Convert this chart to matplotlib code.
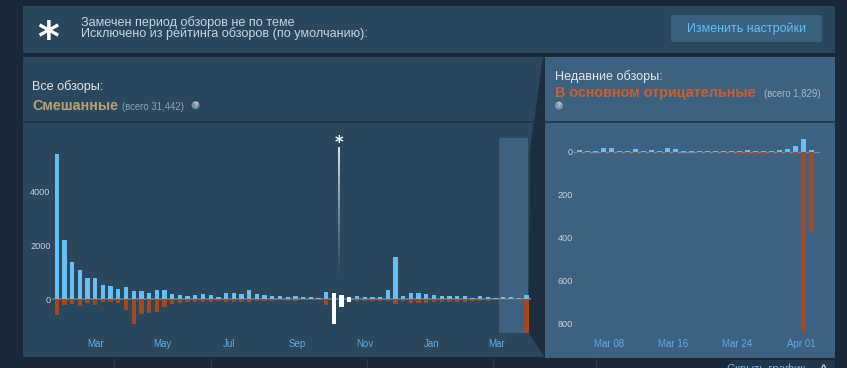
import datetime as dt
import numpy as np
import matplotlib
matplotlib.use('Agg')
import matplotlib.pyplot as plt
import matplotlib.dates as mdates
from matplotlib.patches import Rectangle, Polygon, Circle, FancyBboxPatch
from matplotlib.collections import LineCollection

plt.rcParams['font.family'] = ['Liberation Sans', 'DejaVu Sans']

# ---- data ----
# all reviews, weekly bins (first bin 2018-01-25)
week_start = dt.date(2018, 1, 25)
all_up = [5390, 2190, 1400, 1080, 800, 800, 520, 500, 370, 470,
          310, 300, 230, 360, 330, 210, 160, 135, 150, 200,
          160, 90, 230, 230, 200, 330, 210, 170, 135, 110,
          85, 135, 75, 75, 60, 260, 230, 150, 85, 110,
          85, 85, 75, 360, 1560, 120, 230, 220, 210, 160,
          110, 120, 120, 120, 60, 110, 75, 60, 100, 75,
          50, 160]
all_down = [580, 210, 185, 245, 125, 200, 110, 100, 125, 390,
            920, 530, 490, 480, 300, 170, 125, 85, 85, 100,
            85, 50, 100, 100, 100, 100, 75, 50, 50, 40,
            60, 60, 40, 40, 40, 220, 920, 280, 100, 75,
            75, 60, 60, 60, 170, 60, 135, 135, 135, 110,
            85, 85, 85, 100, 60, 75, 50, 40, 40, 40,
            50, 1250]
offtopic_weeks = [36, 37, 38]          # excluded period, drawn white
offtopic_mark = dt.date(2018, 10, 9)   # the "*" marker

# recent reviews, daily bins (first bin 2019-03-04)
day_start = dt.date(2019, 3, 4)
recent_up = [8, 5, 6, 20, 20, 6, 6, 15, 6, 8,
             5, 18, 14, 5, 5, 3, 2, 3, 3, 3,
             3, 8, 3, 5, 5, 9, 14, 28, 62, 11]
recent_down = [3, 5, 2, 3, 3, 5, 5, 8, 3, 3,
               6, 5, 3, 2, 2, 5, 3, 6, 3, 9,
               12, 14, 15, 12, 8, 5, 5, 14, 843, 375]

left_ticks = [0, 2000, 4000]
right_ticks = [0, -200, -400, -600, -800]
recent_labels = [dt.date(2019, 3, 8), dt.date(2019, 3, 16), dt.date(2019, 3, 24),
                 dt.date(2019, 4, 1)]

# ---- colours ----
BG = '#1b2838'
PANEL = '#2a475e'
PANEL2 = '#3d6180'
DARK = '#1f2e3e'
UP = '#66c0f4'
DOWN = '#a4491f'
LBL = '#c6d4df'
MONTH = '#5eaee0'

W, H = 847, 368
fig = plt.figure(figsize=(W / 100, H / 100), dpi=100, facecolor=BG)


def px_axes(x0, y0, x1, y1, **kw):
    return fig.add_axes([x0 / W, 1 - y1 / H, (x1 - x0) / W, (y1 - y0) / H], **kw)


bg = px_axes(0, 0, W, H)
bg.set_xlim(0, W)
bg.set_ylim(H, 0)
bg.axis('off')

# banner
bg.add_patch(Rectangle((23, 6), 812, 47, color=PANEL, lw=0))
bg.add_patch(FancyBboxPatch((671, 15), 151, 27, boxstyle='round,pad=0,rounding_size=2',
                            color='#386280', lw=0))
bg.text(48, 40, '*', color='white', fontsize=30, fontweight='bold', ha='center', va='center',
        family='DejaVu Sans')
bg.text(81, 22.5, 'Замечен период обзоров не по теме', color=LBL, fontsize=9.1, va='center')
bg.text(81, 34, 'Исключено из рейтинга обзоров (по умолчанию):', color=LBL, fontsize=9.1,
        va='center')
bg.text(746.5, 28.5, 'Изменить настройки', color='#67c1f5', fontsize=9.0, ha='center',
        va='center')

# panels
bg.add_patch(Rectangle((23, 57), 522, 300, color=PANEL, lw=0))
bg.add_patch(Rectangle((545, 57), 290, 301, color=PANEL2, lw=0))
bg.plot([23, 545], [121.5, 121.5], color='#1f3244', lw=1.3)
bg.plot([545, 835], [121.5, 121.5], color='#24384c', lw=1.3)
bg.add_patch(Rectangle((499, 138), 29, 195, color=PANEL2, lw=0))
bg.add_patch(Polygon([(543, 57), (545, 57), (545, 358), (528.5, 333), (530, 150)],
                     closed=True, color=DARK, lw=0))

# headers
bg.text(32, 87, 'Все обзоры:', color='#dfe5ea', fontsize=9.1, va='center')
bg.text(32, 106.5, 'Смешанные', color='#b9a074', fontsize=10.3, fontweight='bold',
        va='center')
bg.text(121.5, 107, '(всего 31,442)', color='#8ba3b5', fontsize=6.9, va='center')
bg.add_patch(Circle((195.5, 105), 4, color='#7d8f9f', lw=0))
bg.text(195.5, 105.3, '?', color='#dde4ea', fontsize=5, fontweight='bold', ha='center',
        va='center')

bg.text(555, 77, 'Недавние обзоры:', color='#dfe5ea', fontsize=9.1, va='center')
bg.text(555, 93.5, 'В основном отрицательные', color='#cc602d', fontsize=10.4,
        fontweight='bold', va='center')
bg.text(763.5, 94, '(всего 1,829)', color='#a5b8c8', fontsize=6.9, va='center')
bg.add_patch(Circle((559, 105.5), 4, color='#8197aa', lw=0))
bg.text(559, 105.8, '?', color='#dde4ea', fontsize=5, fontweight='bold', ha='center',
        va='center')

# bottom strip
for x in [114, 211, 367, 493, 596]:
    bg.plot([x, x], [359, 368], color='#2c3d50', lw=0.8)
bg.add_patch(Rectangle((731, 360), 104, 10, color='#22374b', lw=0))
bg.text(766, 363.5, 'Скрыть график', color='#67c1f5', fontsize=8, ha='center', va='top')
bg.text(823, 363.5, '^', color='#c6d4df', fontsize=9, fontweight='bold', ha='center',
        va='top')


def style(ax):
    ax.patch.set_alpha(0)
    for s in ax.spines.values():
        s.set_visible(False)
    ax.tick_params(axis='y', length=0, pad=1, labelsize=6.6, labelcolor=LBL)
    ax.tick_params(axis='x', length=0, pad=3.3, labelsize=7.0, labelcolor=MONTH)


# ---- all reviews chart ----
ax = px_axes(52, 138, 531, 334)
style(ax)
weeks = [week_start + dt.timedelta(days=7 * i) for i in range(len(all_up))]
up_col = ['white' if i in offtopic_weeks else UP for i in range(len(weeks))]
dn_col = ['white' if i in offtopic_weeks else DOWN for i in range(len(weeks))]
ax.axhline(0, color='#4c88b2', lw=1.1, zorder=1)
ax.bar(weeks, all_up, width=3.9, color=up_col, zorder=2)
ax.bar(weeks, [-v for v in all_down], width=3.9, color=dn_col, zorder=2)
d0 = mdates.date2num(week_start)
ax.set_xlim(d0 - 4.3, d0 + 431.2)
ax.set_ylim(-1285, 5975)
ax.set_yticks(left_ticks)
ax.set_yticklabels([str(v) for v in left_ticks])
ax.xaxis.set_major_locator(mdates.MonthLocator(bymonth=[1, 3, 5, 7, 9, 11]))
ax.xaxis.set_major_formatter(mdates.DateFormatter('%b'))

# fading marker line for the off-topic period
xm = mdates.date2num(offtopic_mark)
ys = np.linspace(5640, 600, 60)
segs = [[(xm, ys[i]), (xm, ys[i + 1])] for i in range(len(ys) - 1)]
alphas = np.linspace(1, 0, len(segs)) ** 1.3
lc = LineCollection(segs, colors=[(1, 1, 1, a) for a in alphas], lw=1.2, zorder=3)
ax.add_collection(lc)
ax.text(xm, 5800, '*', color='white', fontsize=12, fontweight='bold', ha='center',
        va='center', family='DejaVu Sans', clip_on=False)

# ---- recent reviews chart ----
ax2 = px_axes(574, 130, 820, 334)
style(ax2)
days = [day_start + dt.timedelta(days=i) for i in range(len(recent_up))]
ax2.axhline(0, color='#5a93bd', lw=0.9, zorder=1)
ax2.bar(days, recent_up, width=0.55, align='edge', color=UP, zorder=2)
ax2.bar(days, [-v for v in recent_down], width=0.55, align='edge', color=DOWN, zorder=2)
r0 = mdates.date2num(day_start)
ax2.set_xlim(r0 - 0.39, r0 + 30.36)
ax2.set_ylim(-847, 102)
ax2.set_yticks(right_ticks)
ax2.set_yticklabels([str(abs(v)) for v in right_ticks])
ax2.set_xticks([mdates.date2num(d) for d in recent_labels])
ax2.xaxis.set_major_formatter(mdates.DateFormatter('%b %d'))

fig.savefig('out.png', dpi=100, facecolor=BG)
